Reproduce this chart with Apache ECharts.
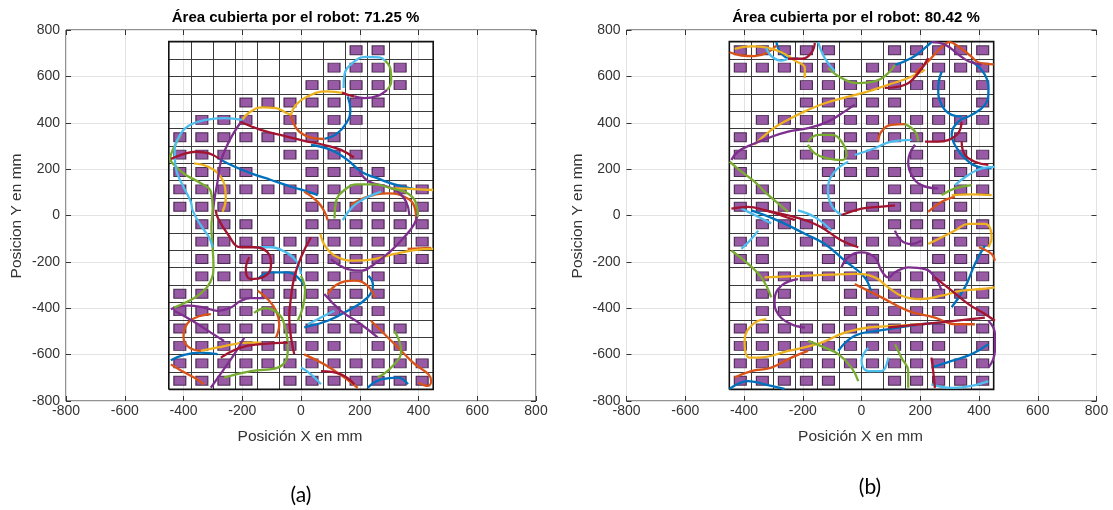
<!DOCTYPE html>
<html><head><meta charset="utf-8">
<script src="https://cdn.jsdelivr.net/npm/echarts@6/dist/echarts.min.js"></script>
<style>html,body{margin:0;padding:0;background:#fff}#c{width:1113px;height:510px}</style>
</head><body><div id="c"></div>
<script>
// ---------- DATA ----------
const titles = ['Área cubierta por el robot: 71.25 %', 'Área cubierta por el robot: 80.42 %'];
const panelLabels = ['(a)', '(b)'];
const xName = 'Posición X en mm';
const yName = 'Posicion Y en mm';
const axisTicks = [-800, -600, -400, -200, 0, 200, 400, 600, 800];
// working area: 12 x 20 cells of 75 mm
const areaX = [-450, 450];
const areaY = [-750, 750];
const cellSize = 75;
// covered cells: per row (top row first), list of column indices (left = 0)
const coveredA = [
  [8,9],[7,8,9,10],[6,7,8,9,10],[3,4,5,6,7,8,9],[1,2,3,5,7,8],
  [0,1,2,3,4,5,6,7],[0,1,2,5,6,7,8],[0,1,2,3,6,7,8,9],[0,1,2,3,4,5,6,7,8,9,10,11],[0,1,2,6,7,8,9,10,11],
  [1,2,3,6,7,8,9,10,11],[1,2,3,4,5,6,7,8,9,10,11],[1,2,3,4,5,6,7,8,9,10,11],[1,2,3,4,5,6,7,8,9],[0,1,3,4,5,6,7,8,9],
  [0,1,2,3,4,5,6,7,8,9],[0,1,2,3,4,5,6,7,8,9,10],[0,1,2,3,4,5,6,7,9,10],[0,1,2,3,4,5,6,7,8,9,10,11],[0,1,2,3,5,6,7,8,9,10,11]
];
const coveredB = [
  [0,1,2,3,4,7,8,9,10,11],[0,1,2,3,4,6,7,8,9,10,11],[3,4,5,6,7,8,9,11],[3,4,5,6,7,9,11],[1,2,3,4,5,6,7,8,9,10,11],
  [0,1,3,4,5,6,7,8,9,10],[0,3,4,5,6,8,10,11],[0,4,5,6,7,8,10,11],[0,1,4,7,8,9,10,11],[0,1,2,4,5,6,7,8,9,10],
  [1,2,3,4,7,8,9,10,11],[0,1,3,4,5,6,7,8,9,10,11],[0,1,4,5,6,9,10,11],[1,2,3,4,5,6,7,8,9,10,11],[1,2,5,6,7,8,9,10,11],
  [1,2,5,6,7,8,9,10,11],[0,1,2,3,4,5,6,7,8,9,10,11],[0,1,2,3,4,5,6,7,8,9,11],[0,1,2,3,4,5,6,7,8,9,10,11],[0,1,2,3,4,7,8,9,10,11]
];
// robot trajectories (mm), grouped by colour, each a list of strokes
const a_blue = [
  [[159,514],[168,456],[154,398],[119,350],[80,330]],
  [[-278,244],[-227,211],[-170,182],[-102,153],[-34,124],[23,103],[57,88]],
  [[34,304],[102,283],[159,239],[205,189],[261,160],[318,134],[386,114]],
  [[-148,-274],[-102,-245],[-45,-245],[-11,-267],[11,-303]],
  [[-443,-624],[-398,-601],[-341,-591],[-284,-598]],
  [[227,-743],[273,-707],[330,-699],[364,-728]],
  [[11,-483],[91,-454],[159,-411],[227,-353],[245,-300],[230,-260]]
];
const a_orange = [
  [[80,330],[34,336],[-6,362],[-28,405],[-34,434]],
  [[170,45],[227,81],[295,95],[352,81],[386,38],[392,-20]],
  [[11,103],[57,59],[80,16],[91,-20]],
  [[-307,-425],[-358,-440],[-392,-476],[-400,-526],[-381,-569],[-341,-584]],
  [[-443,-642],[-409,-668],[-364,-699],[-330,-728]],
  [[-148,-324],[-114,-360],[-85,-411],[-74,-469],[-85,-526]],
  [[91,-339],[125,-296],[182,-281],[227,-303],[250,-353]],
  [[238,-454],[307,-540],[375,-627],[443,-714],[432,-735],[400,-720]],
  [[11,-599],[79,-642],[148,-699],[193,-743]],
  [[363,-144],[443,-140]]
];
const a_yellow = [
  [[-34,434],[-17,478],[23,514],[85,535],[148,528]],
  [[-205,403],[-176,444],[-131,466],[-85,463],[-48,441],[-34,434]],
  [[-364,225],[-318,211],[-278,175],[-259,124],[-256,73],[-267,16]],
  [[318,117],[386,114],[450,110]],
  [[66,-79],[85,-137],[125,-180],[182,-195],[250,-188],[318,-166],[386,-149],[450,-144]],
  [[-341,-584],[-284,-569],[-227,-555],[-182,-548],[-136,-548]]
];
const a_purple = [
  [[293,542],[261,516],[216,506],[182,514]],
  [[-199,413],[-233,348],[-256,290],[-273,232],[-284,146],[-296,59],[-301,-20]],
  [[199,189],[233,145],[295,124],[330,103],[358,59],[369,2]],
  [[-443,-404],[-386,-389],[-330,-397],[-284,-411],[-239,-397],[-205,-368],[-171,-356],[-125,-356]],
  [[-432,-411],[-370,-454],[-307,-505],[-262,-541]],
  [[-193,-526],[-227,-598],[-267,-671],[-307,-743]],
  [[102,-188],[159,-231],[204,-238],[250,-209],[307,-151],[341,-108],[386,-36],[398,22]],
  [[79,-339],[136,-411],[204,-469],[261,-526]]
];
const a_green = [
  [[286,668],[305,629],[307,578],[293,542]],
  [[-409,347],[-434,290],[-445,247],[-426,211],[-392,175],[-341,139],[-307,103],[-301,30],[-305,-50],[-301,-137],[-298,-216],[-309,-288],[-341,-336],[-386,-371],[-432,-397]],
  [[114,-13],[119,59],[148,110],[193,134],[250,134],[307,117],[364,95],[392,52],[398,-6]],
  [[-262,-699],[-171,-671],[-79,-656],[-45,-584],[-57,-469],[-80,-420],[-120,-400],[-160,-420]],
  [[0,-260],[14,-324],[6,-397],[-11,-454]],
  [[318,-497],[341,-584],[307,-656],[261,-699]]
];
const a_lightblue = [
  [[145,550],[148,607],[176,658],[221,684],[267,682],[286,668]],
  [[-199,412],[-261,420],[-329,411],[-381,388],[-415,340],[-430,275],[-426,203],[-403,131],[-375,59],[-369,22],[-341,-43],[-313,-94],[-301,-137]],
  [[142,-20],[176,38],[216,73],[273,103]],
  [[-159,-137],[-102,-137],[-51,-159],[-17,-195],[0,-252]],
  [[0,-656],[34,-685],[68,-728]],
  [[23,-469],[68,-440],[114,-411]]
];
const a_darkred = [
  [[182,514],[160,520],[140,530]],
  [[-443,244],[-403,264],[-358,275],[-313,268],[-278,244]],
  [[-205,403],[-137,369],[-57,343],[11,322],[80,304],[136,283],[180,250]],
  [[-290,25],[-284,-7],[-250,-79],[-205,-137],[-159,-137],[-114,-159],[-102,-216],[-131,-267],[-171,-274],[-188,-231],[-176,-180]],
  [[34,-94],[0,-180],[-23,-267],[-34,-353],[-40,-440],[-34,-526],[-23,-598]],
  [[-273,-613],[-205,-570],[-136,-555],[-45,-548]],
  [[68,-671],[136,-685],[182,-728]]
];
const b_blue = [
  [[-290,748],[-278,708],[-250,679],[-216,676]],
  [[114,650],[170,679],[216,723],[238,748]],
  [[375,665],[420,607],[432,535],[420,477],[375,434],[330,405],[307,348],[318,304],[352,246],[398,210],[443,203]],
  [[273,621],[261,550],[273,477],[307,434],[341,427]],
  [[-375,22],[-284,-22],[-193,-79],[-125,-123],[-57,-195],[11,-267],[34,-339]],
  [[420,-130],[386,-209],[352,-310],[307,-396]],
  [[-449,-748],[-386,-714],[-330,-728],[-262,-748]],
  [[-79,-584],[-23,-519],[57,-497],[125,-483],[204,-469],[273,-462]],
  [[238,-656],[307,-627],[375,-598],[432,-555]]
];
const b_orange = [
  [[-449,704],[-409,690],[-364,687],[-318,704],[-290,733]],
  [[182,614],[227,665],[270,723],[300,748],[330,728],[370,690],[398,660],[420,655],[450,652]],
  [[57,319],[68,362],[102,391],[148,394]],
  [[227,16],[273,59],[318,81]],
  [[-23,-296],[68,-353],[159,-411],[250,-440],[318,-469],[386,-469]],
  [[-432,-699],[-375,-671],[-307,-656],[-239,-613],[-182,-584]],
  [[400,-137],[443,-166],[454,-195]]
];
const b_yellow = [
  [[-432,719],[-375,729],[-318,723],[-273,704],[-227,668],[-193,636],[-193,593]],
  [[-364,305],[-307,369],[-250,413],[-193,449],[-125,484],[-45,513],[23,535],[91,564],[159,593],[216,629]],
  [[307,88],[375,91],[443,88]],
  [[-330,-267],[-193,-260],[-102,-255],[-23,-252],[45,-267],[91,-310],[136,-346],[204,-360],[273,-346],[341,-324],[409,-317],[454,-310]],
  [[227,-123],[273,-94],[318,-65],[364,-36],[420,-36],[443,-94],[432,-137]],
  [[-324,-447],[-370,-469],[-398,-541],[-381,-613],[-352,-613],[-250,-584],[-136,-548],[-57,-505],[23,-483],[114,-476],[204,-469]]
];
const b_purple = [
  [[238,748],[284,737],[330,694],[364,665],[409,650]],
  [[-443,240],[-420,276],[-375,305],[-318,334],[-250,362],[-182,377],[-114,405],[-57,449],[-23,478]],
  [[182,305],[159,232],[170,175],[204,131],[261,117]],
  [[-216,-274],[-273,-303],[-296,-368],[-284,-425],[-239,-469],[-193,-483]],
  [[-68,-224],[-45,-180],[0,-159],[45,-180],[68,-238],[91,-267],[114,-245],[159,-224],[216,-231],[250,-267],[273,-324]],
  [[114,-65],[136,-108],[170,-123],[204,-108]],
  [[432,-454],[454,-511],[454,-584],[432,-656]]
];
const b_green = [
  [[-114,636],[-68,593],[-11,571],[45,578],[91,614],[114,650]],
  [[-182,319],[-148,348],[-102,348],[-68,319],[-51,261],[-68,239],[-114,246],[-159,268],[-182,305]],
  [[-449,232],[-409,189],[-364,146],[-330,103],[-290,59],[-250,16]],
  [[148,394],[182,362],[193,319]],
  [[-443,-151],[-386,-209],[-341,-267],[-307,-353]],
  [[-182,-541],[-125,-570],[-79,-598],[-34,-656],[-11,-714]],
  [[114,-555],[136,-613],[159,-671],[159,-743]],
  [[273,88],[318,117],[375,131]]
];
const b_lightblue = [
  [[-324,723],[-307,687],[-273,668],[-250,676]],
  [[-148,748],[-125,679],[-91,622]],
  [[-23,261],[45,290],[102,319],[170,326]],
  [[-45,232],[-91,189],[-114,117],[-102,44],[-68,2]],
  [[318,131],[364,175],[409,203],[454,210]],
  [[-409,30],[-364,2],[-307,-34]],
  [[-216,22],[-159,-7],[-102,-65]],
  [[-409,-144],[-375,-101],[-352,-65]],
  [[23,-570],[0,-627],[23,-671],[68,-671],[91,-613]],
  [[238,-728],[307,-743],[375,-735],[432,-714]]
];
const b_darkred = [
  [[-250,676],[-205,676],[-171,701],[-159,744]],
  [[79,550],[148,564],[193,614],[227,679]],
  [[341,405],[324,348],[261,319],[216,319]],
  [[341,319],[352,261],[386,232],[432,218]],
  [[-443,30],[-386,37],[-330,23],[-273,0],[-227,-20]],
  [[-68,2],[0,30],[57,37],[114,44]],
  [[-330,22],[-227,-7],[-148,-43],[-68,-108],[-11,-137]],
  [[250,-267],[307,-324],[364,-382],[420,-425],[454,-454]],
  [[91,-483],[204,-469],[318,-454],[420,-440]],
  [[238,-613],[244,-671],[250,-743]]
];

// ---------- STYLE ----------
const COL = {blue:'#0072BD', orange:'#D95319', yellow:'#EDB120', purple:'#7E2F8E', green:'#77AC30', lightblue:'#4DBEEE', darkred:'#A2142F'};
const trajA = [[a_blue,'blue'],[a_orange,'orange'],[a_yellow,'yellow'],[a_purple,'purple'],[a_green,'green'],[a_lightblue,'lightblue'],[a_darkred,'darkred']];
const trajB = [[b_blue,'blue'],[b_orange,'orange'],[b_yellow,'yellow'],[b_purple,'purple'],[b_green,'green'],[b_lightblue,'lightblue'],[b_darkred,'darkred']];
const panels = [
  {left:66, covered:coveredA, traj:trajA},
  {left:626.5, covered:coveredB, traj:trajB}
];
const W = 470, H = 371, TOP = 30;
const FONT = '"Liberation Sans", Arial, sans-serif';
const TXT = '#333333';

const grids = [], xAxes = [], yAxes = [], series = [], graphics = [];
panels.forEach((p, i) => {
  grids.push({left:p.left, top:TOP, width:W, height:H, show:true, borderColor:'#262626', borderWidth:1, backgroundColor:'#fff'});
  const common = {gridIndex:i, type:'value', min:axisTicks[0], max:axisTicks[axisTicks.length-1], interval:200};
  const hiddenLine = {show:false, onZero:false};
  xAxes.push(Object.assign({}, common, {position:'bottom', axisLine:hiddenLine,
    axisTick:{inside:true, length:5, lineStyle:{color:TXT}},
    axisLabel:{color:TXT, fontSize:14, fontFamily:FONT, margin:3},
    splitLine:{show:true, lineStyle:{color:'#e3e3e3', width:1}}}));
  xAxes.push(Object.assign({}, common, {position:'top', axisLine:hiddenLine,
    axisTick:{inside:true, length:5, lineStyle:{color:TXT}}, axisLabel:{show:false}, splitLine:{show:false}}));
  yAxes.push(Object.assign({}, common, {position:'left', axisLine:hiddenLine,
    axisTick:{inside:true, length:5, lineStyle:{color:TXT}},
    axisLabel:{color:TXT, fontSize:14, fontFamily:FONT, margin:6},
    splitLine:{show:true, lineStyle:{color:'#e3e3e3', width:1}}}));
  yAxes.push(Object.assign({}, common, {position:'right', axisLine:hiddenLine,
    axisTick:{inside:true, length:5, lineStyle:{color:TXT}}, axisLabel:{show:false}, splitLine:{show:false}}));
  const xi = i*2, yi = i*2;
  // cell grid lines
  const segs = [];
  for (let x = areaX[0] + cellSize; x < areaX[1]; x += cellSize) segs.push({coords:[[x, areaY[0]],[x, areaY[1]]]});
  for (let y = areaY[0] + cellSize; y < areaY[1]; y += cellSize) segs.push({coords:[[areaX[0], y],[areaX[1], y]]});
  series.push({type:'lines', coordinateSystem:'cartesian2d', xAxisIndex:xi, yAxisIndex:yi, z:2, silent:true,
    lineStyle:{color:'#3a3a3a', width:1, opacity:1}, data:segs});
  series.push({type:'lines', coordinateSystem:'cartesian2d', xAxisIndex:xi, yAxisIndex:yi, z:2, silent:true, polyline:true,
    lineStyle:{color:'#111', width:1.6, opacity:1},
    data:[{coords:[[areaX[0],areaY[0]],[areaX[1],areaY[0]],[areaX[1],areaY[1]],[areaX[0],areaY[1]],[areaX[0],areaY[0]]]}]});
  // covered cells
  const pts = [];
  p.covered.forEach((cols, r) => cols.forEach(c => pts.push([areaX[0] + cellSize*(c+0.5), areaY[1] - cellSize*(r+0.5)])));
  series.push({type:'scatter', xAxisIndex:xi, yAxisIndex:yi, z:3, silent:true, symbol:'rect', symbolSize:[12,9],
    itemStyle:{color:'#7E2F8E', borderColor:'#2a1230', borderWidth:1}, data:pts});
  // trajectories
  p.traj.forEach(([strokes, c]) => strokes.forEach(s => series.push({type:'line', xAxisIndex:xi, yAxisIndex:yi, z:4, silent:true,
    data:s, smooth:0.45, showSymbol:false, symbol:'none', lineStyle:{color:COL[c], width:2.3}})));
  const cx = p.left + W/2;
  graphics.push({type:'text', x:cx - 5.5, y:18, style:{text:titles[i], font:'bold 15px ' + FONT, fill:'#000', textAlign:'center', textVerticalAlign:'middle'}});
  graphics.push({type:'text', x:cx - 1, y:437, style:{text:xName, font:'15.5px ' + FONT, fill:TXT, textAlign:'center', textVerticalAlign:'middle'}});
  graphics.push({type:'text', x:p.left - 49, y:216, rotation:Math.PI/2, style:{text:yName, font:'15.5px ' + FONT, fill:TXT, textAlign:'center', textVerticalAlign:'middle'}});
  graphics.push({type:'text', x:[301, 870][i], y:[495, 487][i], style:{text:panelLabels[i], font:'21px Lato, "Open Sans", sans-serif', fill:'#000', textAlign:'center', textVerticalAlign:'middle'}});
});

const chart = echarts.init(document.getElementById('c'), null, {renderer:'canvas'});
chart.setOption({animation:false, backgroundColor:'#fff', grid:grids, xAxis:xAxes, yAxis:yAxes, series:series, graphic:graphics});
</script></body></html>
